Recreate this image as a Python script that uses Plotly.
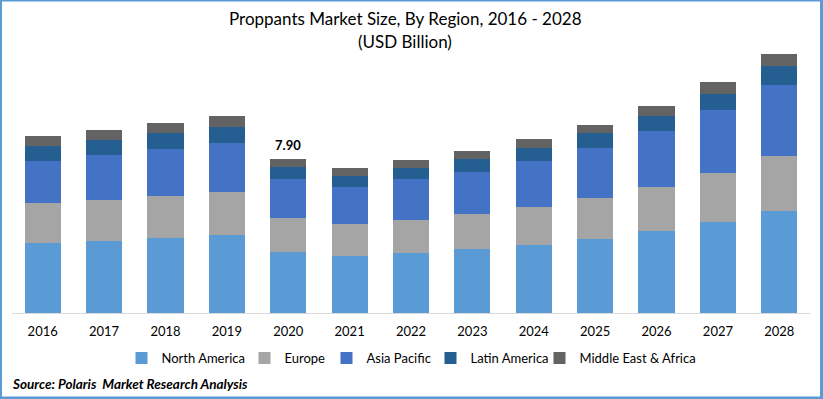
import plotly.graph_objects as go

years = ["2016", "2017", "2018", "2019", "2020", "2021", "2022",
         "2023", "2024", "2025", "2026", "2027", "2028"]
north_america = [3.59, 3.70, 3.86, 4.01, 3.14, 2.93, 3.09, 3.29, 3.50, 3.81, 4.22, 4.68, 5.24]
europe = [2.06, 2.11, 2.16, 2.21, 1.75, 1.64, 1.70, 1.80, 1.95, 2.11, 2.26, 2.52, 2.83]
asia_pacific = [2.16, 2.31, 2.42, 2.52, 2.00, 1.90, 2.06, 2.16, 2.36, 2.57, 2.88, 3.24, 3.65]
latin_america = [0.77, 0.77, 0.82, 0.82, 0.62, 0.57, 0.57, 0.67, 0.67, 0.77, 0.77, 0.82, 0.93]
mea = [0.51, 0.51, 0.51, 0.57, 0.39, 0.41, 0.41, 0.41, 0.46, 0.41, 0.51, 0.57, 0.62]
label_year = "2020"
label_text = "7.90"

series = [
    ("North America", north_america, "#5B9BD5", 78),
    ("Europe", europe, "#A5A5A5", 37),
    ("Asia Pacific", asia_pacific, "#4472C4", 59),
    ("Latin America", latin_america, "#255E91", 64),
    ("Middle East & Africa", mea, "#636363", 116),
]

FONT = "Lato, 'Open Sans', sans-serif"
W, H = 823, 399
ML, MR, MT, MB = 12, 13, 50, 86
PW, PH = W - ML - MR, H - MT - MB


def px(x):
    return (x - ML) / PW


def py(y):
    return (H - MB - y) / PH


fig = go.Figure()
for name, vals, color, lw in series:
    fig.add_trace(go.Bar(x=years, y=vals, name=name, marker_color=color,
                         marker_line_width=0, legendwidth=lw))

idx = years.index(label_year)
total_2020 = sum(s[1][idx] for s in series)

fig.add_annotation(x=idx, y=total_2020, text="<b>" + label_text + "</b>",
                   showarrow=False, yanchor="bottom", yshift=4,
                   font=dict(family=FONT, size=13, color="#000000"))

fig.add_annotation(xref="paper", yref="paper", x=px(405), y=py(18),
                   text="Proppants Market Size, By Region, 2016 - 2028",
                   showarrow=False, xanchor="center", yanchor="middle",
                   font=dict(family=FONT, size=17, color="#000000"))
fig.add_annotation(xref="paper", yref="paper", x=px(405), y=py(42),
                   text="(USD Billion)",
                   showarrow=False, xanchor="center", yanchor="middle",
                   font=dict(family=FONT, size=17, color="#000000"))
fig.add_annotation(xref="paper", yref="paper", x=px(10), y=py(384),
                   text="<b><i>Source: Polaris  Market Research Analysis</i></b>",
                   showarrow=False, xanchor="left", yanchor="middle",
                   font=dict(family=FONT, size=13.5, color="#000000"))

border = "#5B9BD5"
for x0, y0, x1, y1 in [(0, 0, 2, H), (0, 0, W, 1.5), (820, 0, W, H), (0, 396.5, W, H)]:
    fig.add_shape(type="rect", xref="paper", yref="paper",
                  x0=px(x0), x1=px(x1), y0=py(y1), y1=py(y0),
                  fillcolor=border, line_width=0, layer="above")

fig.update_layout(
    width=W, height=H,
    barmode="stack", bargap=0.41,
    margin=dict(l=ML, r=MR, t=MT, b=MB),
    paper_bgcolor="white", plot_bgcolor="white",
    font=dict(family=FONT, size=13, color="#000000"),
    showlegend=True,
    legend=dict(orientation="h", x=0.5, xanchor="center", y=py(358), yanchor="middle",
                font=dict(family=FONT, size=13, color="#000000"),
                traceorder="normal", itemwidth=30),
    xaxis=dict(type="category", range=[-0.5, len(years) - 0.5], showline=True,
               linecolor="#D9D9D9", linewidth=1,
               showgrid=False, ticks="", ticklabelstandoff=6,
               tickfont=dict(family=FONT, size=13)),
    yaxis=dict(range=[0, PH / 19.49], visible=False, showgrid=False),
)

fig.write_html("out.html", config={"displayModeBar": False},
               post_script="document.body.style.margin='0';document.body.style.overflow='hidden';")
